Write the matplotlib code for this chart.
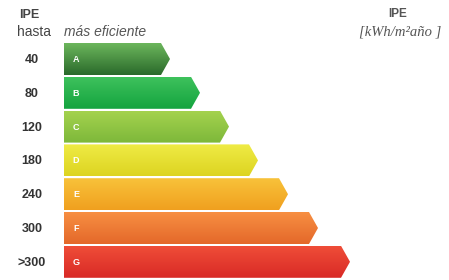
"""Energy efficiency label (IPE scale, A-G) drawn as stepped arrow bars."""
import matplotlib
matplotlib.use("Agg")
import matplotlib.pyplot as plt
import numpy as np
from matplotlib.colors import to_rgb
from matplotlib.patches import Polygon

# data
classes = ["A", "B", "C", "D", "E", "F", "G"]
thresholds = ["40", "80", "120", "180", "240", "300", ">300"]
bar_length = [106, 136, 165, 194, 224, 254, 286]   # tip length of each arrow

# gradient colours per class (top, bottom)
COL_TOP = ["#6cb65c", "#3ec25c", "#a4d24e", "#efeb45", "#f8c23a", "#f78f42", "#ef4d38"]
COL_BOT = ["#2a6a2b", "#14a33f", "#7db83a", "#ddd421", "#f0a01f", "#e4682a", "#d92a26"]

W, H = 449, 280
X0 = 64          # left edge of bars
Y0 = 43          # top of first bar
PITCH = 33.8
BAR_H = 32
TIP = 9

plt.rcParams["font.family"] = ["Liberation Sans", "DejaVu Sans"]

fig = plt.figure(figsize=(W / 100, H / 100), dpi=100)
ax = fig.add_axes([0, 0, 1, 1])
ax.set_xlim(0, W)
ax.set_ylim(H, 0)
ax.axis("off")

for i, (cls, thr, length) in enumerate(zip(classes, thresholds, bar_length)):
    top = Y0 + i * PITCH
    bot = top + BAR_H
    mid = (top + bot) / 2
    right = X0 + length
    verts = [(X0, top), (right - TIP, top), (right, mid),
             (right - TIP, bot), (X0, bot)]
    poly = Polygon(verts, closed=True, facecolor="none", edgecolor="none")
    ax.add_patch(poly)

    t = np.linspace(0, 1, 64)[:, None]
    c1, c2 = np.array(to_rgb(COL_TOP[i])), np.array(to_rgb(COL_BOT[i]))
    grad = (1 - t)[:, :, None] * c1 + t[:, :, None] * c2
    grad = np.repeat(grad, 2, axis=1)
    im = ax.imshow(grad, extent=(X0, right, bot, top), aspect="auto",
                   interpolation="bilinear", zorder=1)
    im.set_clip_path(poly)

    ax.text(X0 + 12, mid + 0.5, cls, color="white", fontsize=6.5,
            fontweight="bold", ha="center", va="center", zorder=3)
    ax.text(32, mid + 1, thr, color="#333333", fontsize=9,
            fontweight="bold", ha="center", va="center")

# headers
ax.text(29, 15, "IPE", fontsize=9, fontweight="bold", color="#444444",
        ha="center", va="center")
ax.text(34, 32, "hasta", fontsize=10, color="#444444",
        ha="center", va="center")
ax.text(64, 32, "más eficiente", fontsize=10, style="italic",
        color="#555555", ha="left", va="center")
ax.text(398, 14, "IPE", fontsize=8.5, fontweight="bold", color="#555555",
        ha="center", va="center")
ax.text(400, 32, "[kWh/m²año ]", fontsize=10.5, style="italic",
        family=["Liberation Serif", "DejaVu Serif"], color="#555555",
        ha="center", va="center")

fig.savefig("out.png", dpi=100, facecolor="white")
